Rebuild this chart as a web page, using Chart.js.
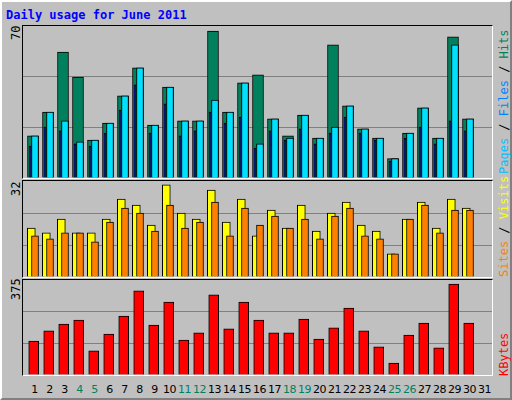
<!DOCTYPE html>
<html><head><meta charset="utf-8">
<script src="https://cdn.jsdelivr.net/npm/chart.js@4/dist/chart.umd.min.js"></script>
<style>
body{margin:0;background:#fff}
#wrap{position:absolute;left:0;top:0;width:508px;height:396px;background:#C0C0C0;border-top:2px solid #fff;border-left:2px solid #fff;border-right:2px solid #808080;border-bottom:2px solid #808080;font-family:"DejaVu Sans Mono",monospace}
.t{position:absolute;font-size:12px;white-space:nowrap}
.d{position:absolute;font-size:11px;white-space:nowrap;font-family:"DejaVu Sans",sans-serif;letter-spacing:-0.5px}
.rot{position:absolute;transform-origin:0 0;transform:rotate(-90deg);font-size:12px;white-space:nowrap;font-family:"DejaVu Sans Mono",monospace}
.panel{position:absolute;left:20px;width:469px;border:1px solid #000;border-right-color:#fff;border-bottom-color:#fff;background:#C0C0C0}
canvas{position:absolute;left:0;top:0}
</style></head><body>
<div id="wrap"></div>
<script>
const days=[1,2,3,4,5,6,7,8,9,10,11,12,13,14,15,16,17,18,19,20,21,22,23,24,25,26,27,28,29,30,31];
const weekend=[4,5,11,12,18,19,25,26];
const hits=[19.4,30.4,58,46.5,17.5,25.3,37.8,50.7,24.4,41.9,26.3,26.3,67.7,30.4,43.8,47.5,27.2,19.4,29,18.4,61.3,33.2,22.6,18.4,8.9,20.7,32.3,18.4,65,27.2,0];
const files=[19.4,30.4,26.3,16.6,17.5,25.3,37.8,50.7,24.4,41.9,26.3,26.3,35.9,30.4,43.8,15.7,27.2,18.4,29,18.4,23.5,33.2,22.6,18.4,8.9,20.7,32.3,18.4,61.3,27.2,0];
const pages=[14.7,23.5,21.7,15.7,14.7,20.7,31.3,42.9,20.7,34.1,19.4,21.7,30.4,25.3,28.1,13.8,21.7,17.5,22.6,15.7,20.7,28.1,20.7,17.5,7.8,18.4,23.5,15.7,26.3,21.7,0];
const visits=[16.3,14.7,19.3,14.7,14.7,19.3,26,24,17.3,30.7,21.3,19.3,29,18.3,26,13.7,22.3,16.3,24,15.3,21.3,25,17.3,15.3,7.7,19.3,25,16.3,26,23,0];
const sites=[13.7,12.7,14.7,14.7,11.7,18.3,23,21.3,15.3,24,16.3,18.3,25,13.7,23,17.3,20.3,16.3,19.3,12.7,20.3,23,13.7,12.7,7.7,19.3,24,14.7,22.3,22.3,0];
const kbytes=[134,174,201,217,95,162,233,332,197,288,138,166,316,182,288,217,166,166,221,142,186,264,174,111,47,158,205,107,359,205,0];
const maxTicks=["70","32","375"];

const wrap=document.getElementById('wrap');
function el(cls,txt,css){const d=document.createElement('div');d.className=cls;d.textContent=txt;Object.assign(d.style,css);wrap.appendChild(d);return d;}
el('t','Daily usage for June 2011',{left:'4px',top:'6px',color:'#0000FF',fontWeight:'bold'});

function panel(top,h,max,sets){
  const p=document.createElement('div');p.className='panel';p.style.top=top+'px';p.style.height=h+'px';wrap.appendChild(p);
  const c=document.createElement('canvas');c.width=469;c.height=h;p.appendChild(c);
  new Chart(c,{type:'bar',data:{datasets:sets.map((s,i)=>({data:s.v.map((v,j)=>({x:days[j]+s.off,y:v})),backgroundColor:s.c,borderColor:'#000',borderWidth:1,borderSkipped:'bottom',barThickness:s.w,order:s.o}))},
    options:{responsive:false,devicePixelRatio:1,animation:false,grouped:false,layout:{padding:0},
      plugins:{legend:{display:false},tooltip:{enabled:false}},
      scales:{x:{type:'linear',min:0.233,max:31.5,display:false,offset:false},
        y:{min:0,max:max,display:true,ticks:{display:false,stepSize:max/3},border:{display:false},
          grid:{drawTicks:false,color:c=>(c.index===1||c.index===2)?'#808080':'rgba(0,0,0,0)'}}}}});
}
panel(23,152,70,[{v:hits,c:'#00805C',off:-0.1,w:11,o:3},{v:files,c:'#00E0FF',off:0.033,w:7,o:2},{v:pages,c:'#0000FF',off:-0.3,w:2,o:1}]);
panel(178,96,32,[{v:visits,c:'#FFFF00',off:-0.213,w:8,o:2},{v:sites,c:'#FF8000',off:0.033,w:7,o:1}]);
panel(277,95,375,[{v:kbytes,c:'#FF0000',off:-0.053,w:10,o:1}]);

el('rot',maxTicks[0],{left:'7px',top:'38px'});
el('rot',maxTicks[1],{left:'7px',top:'194px'});
el('rot',maxTicks[2],{left:'7px',top:'298px'});

function rtitle(bottom,parts){
  const d=document.createElement('div');d.className='rot';d.style.left='495px';d.style.top=bottom+'px';
  parts.forEach(p=>{const s=document.createElement('span');s.textContent=p[0];s.style.color=p[1];d.appendChild(s);});
  wrap.appendChild(d);
}
rtitle(172,[['Pages','#00C0FF'],[' / ','#000'],['Files','#0080FF'],[' / ','#000'],['Hits','#00805C']]);
rtitle(275,[['Sites','#FF8000'],[' / ','#000'],['Visits','#FFFF00']]);
rtitle(374,[['KBytes','#FF0000']]);

days.forEach((d,i)=>{
  const x=21+(d-0.233)*15;
  el('d',String(d),{left:(x-12)+'px',width:'24px',textAlign:'center',top:'381px',color:weekend.includes(d)?'#00805C':'#000'});
});
</script></body></html>
